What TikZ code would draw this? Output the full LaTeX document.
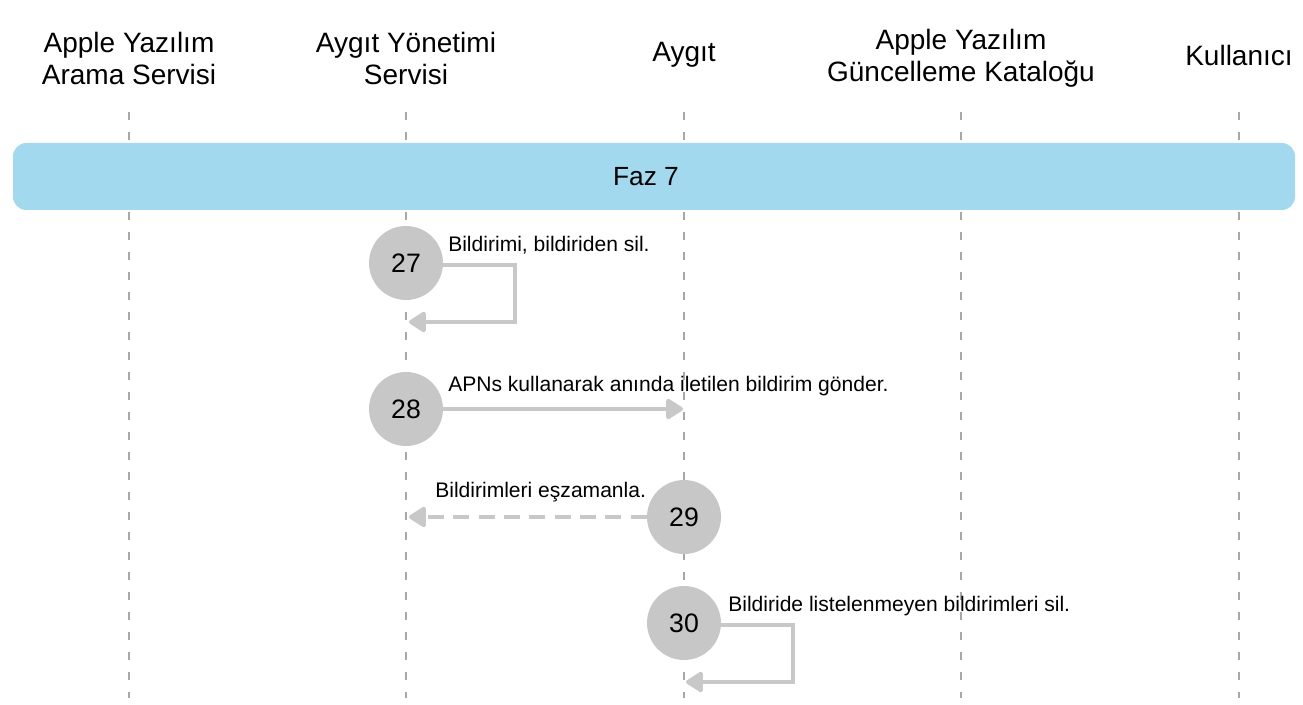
\documentclass[tikz,border=0pt]{standalone}
\usepackage{fontspec}
\setmainfont{Liberation Sans}
\usetikzlibrary{arrows.meta}
\definecolor{lifeline}{HTML}{A8A8A8}
\definecolor{phase}{HTML}{A3D9EF}
\definecolor{stepgray}{HTML}{C6C7C6}
\definecolor{arrowgray}{HTML}{C8C8C8}
\tikzset{
  header/.style={align=center, font=\fontsize{21}{24}\selectfont, inner sep=0pt},
  lifeline/.style={draw=lifeline, line width=0.8pt, dash pattern=on 6pt off 9pt},
  stepcircle/.style={circle, fill=stepgray, minimum size=55.5pt, inner sep=0pt, font=\fontsize{20}{22}\selectfont},
  msg/.style={draw=arrowgray, line width=3pt, -{Triangle[length=14pt,width=17pt,round]}},
  msglabel/.style={anchor=west, font=\fontsize{15.8}{18}\selectfont, inner sep=0pt},
}
\begin{document}
\begin{tikzpicture}[x=0.75pt,y=-0.75pt]
\useasboundingbox (0,0) rectangle (1303,705);
% headers
\node[header] (h1) at (129,58) {Apple Yazılım\\Arama Servisi};
\node[header] (h2) at (406,58) {Aygıt Yönetimi\\Servisi};
\node[header] (h3) at (684,55) {Aygıt};
\node[header] (h4) at (961,58) {Apple Yazılım\\Güncelleme Kataloğu};
\node[header] (h5) at (1239,55) {Kullanıcı};
% lifelines
\foreach \n/\x in {l1/129,l2/406,l3/684,l4/961,l5/1239}{
  \coordinate (\n top) at (\x,112);
  \coordinate (\n bot) at (\x,698);
  \draw[lifeline] (\n top) -- (\n bot);
}
% phase bar
\draw[fill=phase, draw=none, rounded corners=10pt] (13,143) rectangle (1295,210);
\node[font=\fontsize{19.7}{22}\selectfont] (faz) at (646,177) {Faz 7};
% steps
\node[stepcircle] (s27) at (406,263) {27};
\node[stepcircle] (s28) at (406,409) {28};
\node[stepcircle] (s29) at (684,517) {29};
\node[stepcircle] (s30) at (684,623) {30};
% message 27
\coordinate (e27) at (409,322);
\draw[msg] (s27.east |- 0,265) -| (515,322) -- (e27);
\node[msglabel] (t27) at (448,245) {Bildirimi, bildiriden sil.};
% message 28
\coordinate (e28) at (683,409);
\draw[msg] (s28.east) -- (e28);
\node[msglabel] (t28) at (448,386) {APNs kullanarak anında iletilen bildirim gönder.};
% message 29
\coordinate (e29) at (409,517);
\draw[msg, dash pattern=on 12pt off 7pt] (s29.west) -- (e29);
\node[msglabel] (t29) at (435,492) {Bildirimleri eşzamanla.};
% message 30
\coordinate (e30) at (686,682);
\draw[msg] (s30.east |- 0,625) -| (793,682) -- (e30);
\node[msglabel] (t30) at (728,606) {Bildiride listelenmeyen bildirimleri sil.};
\end{tikzpicture}
\end{document}
